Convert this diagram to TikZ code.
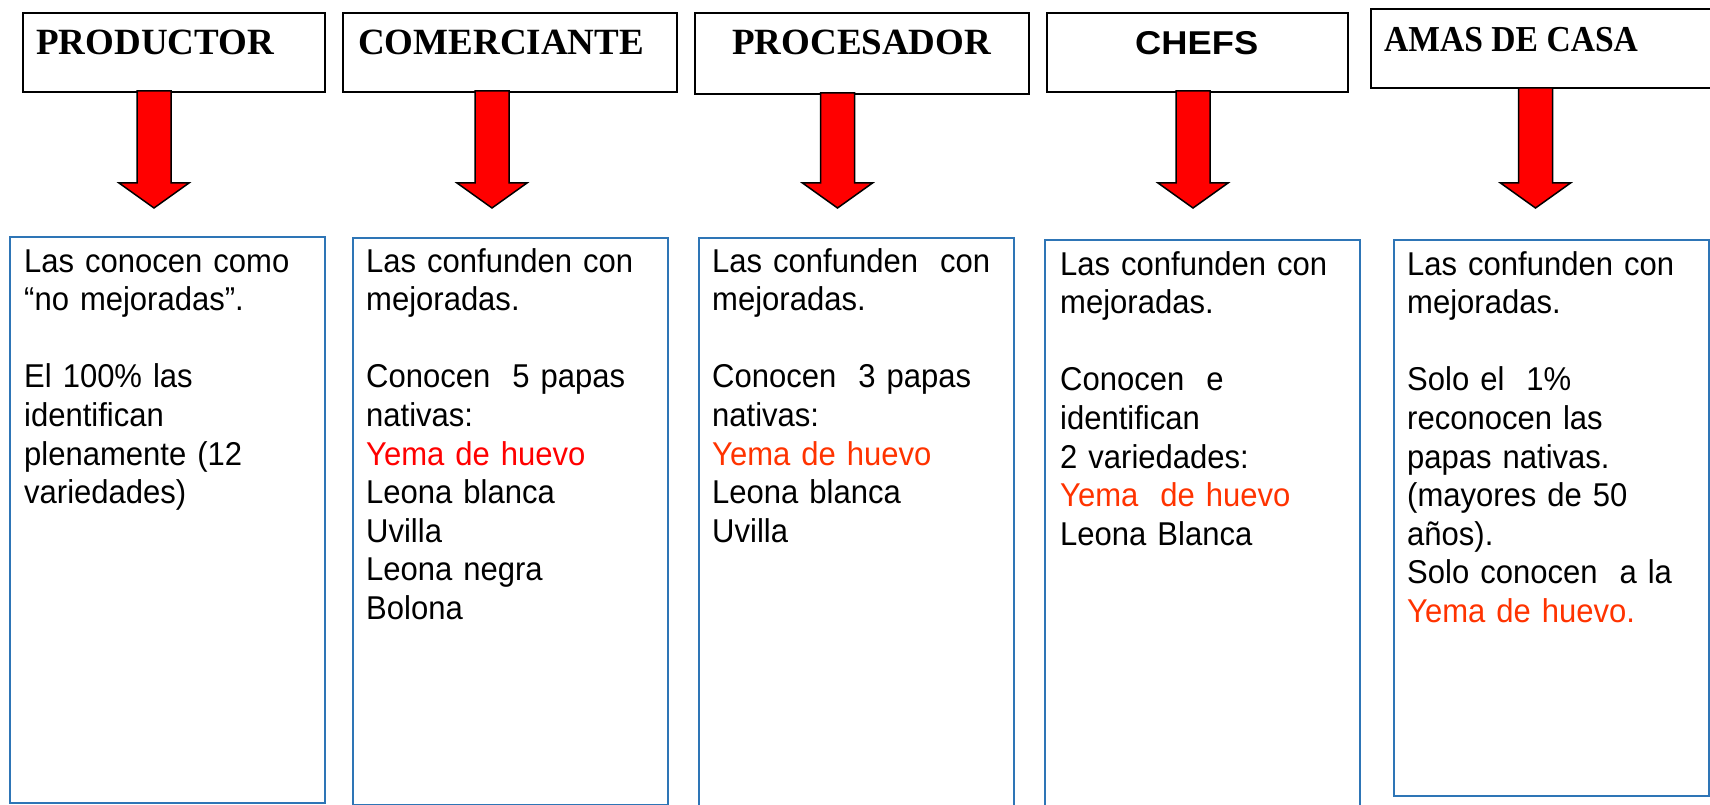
\documentclass[tikz,border=0pt]{standalone}
\usepackage{fontspec}
\usepackage{tikz}
\usetikzlibrary{positioning}
\newfontfamily\hdrfont{Liberation Serif}
\newfontfamily\hdrnarrow{Liberation Serif}[FakeStretch=0.92]
\newfontfamily\chefsfont{Liberation Sans}[FakeStretch=1.1]
\newfontfamily\bodyfont{Liberation Sans}[FakeStretch=0.94]
\definecolor{boxblue}{RGB}{46,117,182}
\definecolor{yemared}{RGB}{255,0,0}
\definecolor{yemaorange}{RGB}{255,51,0}

\begin{document}
\begin{tikzpicture}[x=1pt,y=-1pt,
                hdrbox/.style={draw=black, line width=2pt, anchor=north west, inner sep=0pt},
                hdrtext/.style={anchor=base west, inner sep=0pt, font=\hdrfont\bfseries\fontsize{37}{42}\selectfont},
                infobox/.style={draw=boxblue, line width=2pt, anchor=north west, inner sep=0pt, minimum width=315pt},
                infotext/.style={anchor=base west, inner sep=0pt, text width=300pt, align=left,
                                 font=\bodyfont\fontsize{33}{38.6}\selectfont},
                redarrow/.style={fill=red, draw=black, line width=1.5pt, line join=miter}]
    \useasboundingbox (0,0) rectangle (1710,805);

    \node[hdrbox, minimum width=302pt, minimum height=79pt] (h1) at (22,12) {};
    \node[hdrbox, minimum width=334pt, minimum height=79pt] (h2) at (342,12) {};
    \node[hdrbox, minimum width=334pt, minimum height=81pt] (h3) at (694,12) {};
    \node[hdrbox, minimum width=301pt, minimum height=79pt] (h4) at (1046,12) {};
    \node[hdrbox, minimum width=344pt, minimum height=79pt] (h5) at (1370,8) {};

    \node[hdrtext] (t1) at (36,55) {PRODUCTOR};
    \node[hdrtext] (t2) at (358,55) {COMERCIANTE};
    \node[hdrtext] (t3) at (732,55) {PROCESADOR};
    \node[hdrtext, font=\chefsfont\bfseries\fontsize{33}{38}\selectfont] (t4) at (1135,55) {CHEFS};
    \node[hdrtext, font=\hdrnarrow\bfseries\fontsize{36.5}{42}\selectfont] (t5) at (1384,52) {AMAS DE CASA};

    \foreach \ax/\ay in {154/91, 492/91, 837.5/93, 1193/91, 1535.5/88}
        \draw[redarrow] (\ax-17,\ay) -- (\ax-17,183) -- (\ax-35,183) -- (\ax,208)
                        -- (\ax+35,183) -- (\ax+17,183) -- (\ax+17,\ay) -- cycle;

    \node[infobox, minimum height=566pt] (b1) at (9,236) {};
    \node[infobox, minimum height=567pt] (b2) at (352,237) {};
    \node[infobox, minimum height=575pt] (b3) at (698,237) {};
    \node[infobox, minimum height=575pt] (b4) at (1044,239) {};
    \node[infobox, minimum height=556pt] (b5) at (1393,239) {};

    \node[infotext] (p1) at (24,272) {Las conocen como\\
        “no mejoradas”.\\[38.6pt]
        El 100\% las\\ identifican\\ plenamente (12\\ variedades)};
    \node[infotext] (p2) at (366,272) {Las confunden con\\ mejoradas.\\[38.6pt]
        Conocen~ 5 papas\\ nativas:\\ {\color{yemared}Yema de huevo}\\
        Leona blanca\\ Uvilla\\ Leona negra\\ Bolona};
    \node[infotext] (p3) at (712,272) {Las confunden~ con\\ mejoradas.\\[38.6pt]
        Conocen~ 3 papas\\ nativas:\\ {\color{yemaorange}Yema de huevo}\\
        Leona blanca\\ Uvilla};
    \node[infotext] (p4) at (1060,275) {Las confunden con\\ mejoradas.\\[38.6pt]
        Conocen~ e\\ identifican\\ 2 variedades:\\ {\color{yemaorange}Yema~ de huevo}\\
        Leona Blanca};
    \node[infotext] (p5) at (1407,275) {Las confunden con\\ mejoradas.\\[38.6pt]
        Solo el~ 1\%\\ reconocen las\\ papas nativas.\\ (mayores de 50\\ años).\\
        Solo conocen~ a la\\ {\color{yemaorange}Yema de huevo.}};
\end{tikzpicture}
\end{document}
